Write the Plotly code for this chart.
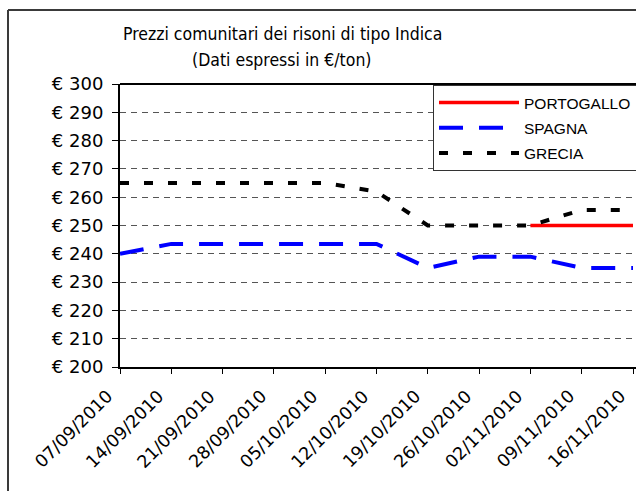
import plotly.graph_objects as go

dates = ["07/09/2010", "14/09/2010", "21/09/2010", "28/09/2010", "05/10/2010",
         "12/10/2010", "19/10/2010", "26/10/2010", "02/11/2010", "09/11/2010", "16/11/2010"]
portogallo = [None, None, None, None, None, None, None, None, 250, 250, 250]
spagna = [240, 243.5, 243.5, 243.5, 243.5, 243.5, 235, 239, 239, 235, 235]
grecia = [265, 265, 265, 265, 265, 262, 250, 250, 250, 255.5, 255.5]
y_ticks = [200, 210, 220, 230, 240, 250, 260, 270, 280, 290, 300]
y_labels = ["€ %d" % v for v in y_ticks]
title_lines = ["Prezzi comunitari dei risoni di tipo Indica", "(Dati espressi in €/ton)"]

W, H = 636, 491
L, R, T, B = 120, 0, 84, 124
pw, ph = W - L - R, H - T - B

fig = go.Figure()
fig.add_trace(go.Scatter(x=dates, y=portogallo, name="PORTOGALLO", mode="lines", legendgroup="p",
                         line=dict(color="#ff0000", width=3.5), connectgaps=False))
fig.add_trace(go.Scatter(x=dates, y=spagna, name="SPAGNA", mode="lines", legendgroup="s",
                         line=dict(color="#0000ff", width=4, dash="24px,16px")))
fig.add_trace(go.Scatter(x=dates, y=grecia, name="GRECIA", mode="lines", legendgroup="g",
                         line=dict(color="#000000", width=4, dash="9px,15px")))

def px_x(x):
    return (x - L) / pw

def px_y(y):
    return (H - B - y) / ph

shapes = [
    # outer chart border (left and top, the rest is cropped)
    dict(type="line", xref="paper", yref="paper", x0=px_x(8), x1=px_x(8), y0=px_y(10), y1=px_y(H + 20),
         line=dict(color="#3a3a3a", width=2)),
    dict(type="line", xref="paper", yref="paper", x0=px_x(8), x1=px_x(W + 20), y0=px_y(10), y1=px_y(10),
         line=dict(color="#3a3a3a", width=2)),
    # top border of plot area
    dict(type="line", xref="paper", yref="paper", x0=0, x1=1, y0=1, y1=1,
         line=dict(color="#000000", width=2)),
]

# category tick labels, rotated
annotations = [
    dict(x=d, xref="x", y=0, yref="paper", text=d, showarrow=False, textangle=-45,
         xanchor="right", yanchor="top", xshift=-1, yshift=-16,
         font=dict(family="DejaVu Sans", size=17.5, color="black"))
    for d in dates
]
# title lines
for txt, yc in zip(title_lines, [34, 60]):
    annotations.append(dict(x=px_x(282), xref="paper", y=px_y(yc), yref="paper", text=txt,
                            showarrow=False, xanchor="center", yanchor="middle",
                            font=dict(family="Liberation Sans Narrow, DejaVu Sans Condensed, Liberation Sans",
                                      size=17.5, color="black")))

fig.update_layout(
    width=W, height=H,
    margin=dict(l=L, r=R, t=T, b=B, pad=0, autoexpand=False),
    paper_bgcolor="white", plot_bgcolor="white",
    font=dict(family="DejaVu Sans, Liberation Sans", color="black", size=16),
    xaxis=dict(type="category", range=[0, 10 * pw / 513], showgrid=False, automargin=False,
               showline=True, linecolor="black", linewidth=2,
               ticks="outside", ticklen=5, tickcolor="black", tickwidth=1,
               showticklabels=False,
               zeroline=False, fixedrange=True),
    yaxis=dict(range=[200, 300], tickvals=y_ticks, ticktext=y_labels, automargin=False,
               showgrid=True, gridcolor="#555555", gridwidth=1, griddash="6px,5px",
               showline=True, linecolor="black", linewidth=2,
               ticks="outside", ticklen=6, tickcolor="black", tickwidth=1,
               tickfont=dict(family="DejaVu Sans", size=18),
               ticklabelstandoff=5,
               zeroline=False, fixedrange=True),
    legend=dict(x=px_x(433), y=px_y(85), xanchor="left", yanchor="top",
                bgcolor="white", bordercolor="#333333", borderwidth=1,
                font=dict(family="Liberation Sans, Arial", size=15.5, color="black"),
                itemwidth=80, tracegroupgap=2, traceorder="grouped"),
    shapes=shapes,
    annotations=annotations,
    showlegend=True,
)

fig.write_html("out.html", post_script="document.body.style.margin='0';",
               config={"displayModeBar": False})
